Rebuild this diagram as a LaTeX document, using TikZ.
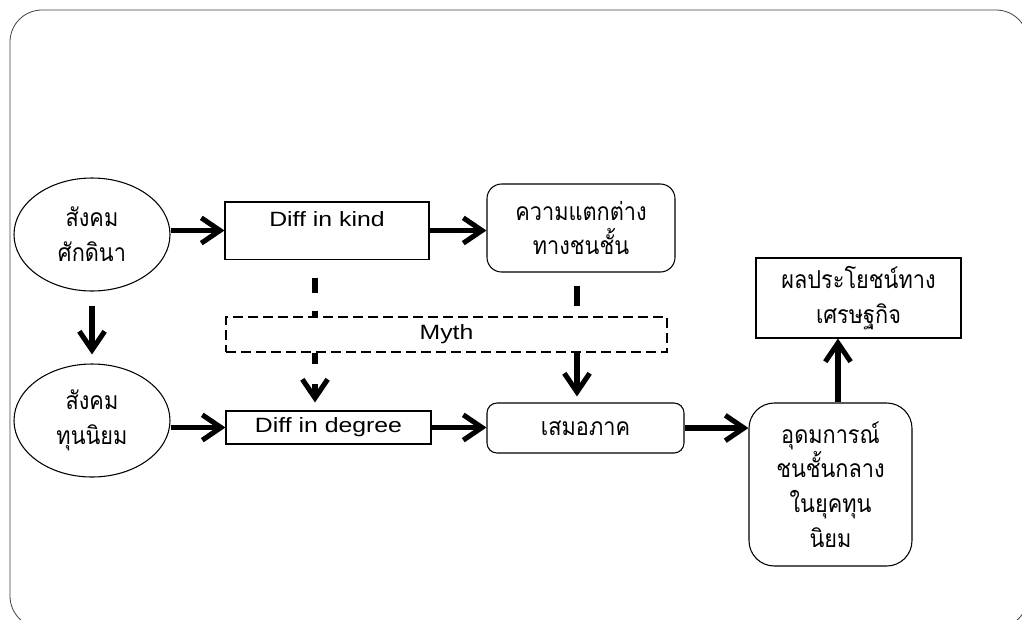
\documentclass[tikz,border=0pt]{standalone}
\usepackage{fontspec}
\setmainfont{Liberation Sans}[FakeStretch=1.2]
\newfontfamily\thai[Script=Thai,FakeStretch=0.88]{Loma}
\usetikzlibrary{shapes.geometric,arrows.meta}
\begin{document}
\begin{tikzpicture}[x=0.75pt,y=-0.75pt,
  box/.style={draw, line width=0.8pt, inner sep=0pt, align=center},
  rbox/.style={box, rounded corners=#1},
  th/.style={font=\thai\fontsize{18.5}{26}\selectfont},
  la/.style={font=\fontsize{15.5}{18}\selectfont},
  arr/.style={line width=3.8pt, -{Straight Barb[length=14pt,width=19pt]}},
  darr/.style={line width=3.8pt},
  mythbox/.style={draw, line width=2.1pt, dash pattern=on 7.5pt off 3.75pt, inner sep=0pt}
  ]
\useasboundingbox (0,0) rectangle (1022,619);
\draw[black!75, line width=0.6pt, rounded corners=24pt] (10,10) rectangle (1028,628);

\node[box, ellipse, minimum width=117pt, minimum height=84.75pt, th] (e1) at (92,234.5) {สังคม\\ศักดินา};
\node[box, ellipse, minimum width=117pt, minimum height=84.75pt, th] (e2) at (92,420.5) {สังคม\\ทุนนิยม};
\node[box, minimum width=153pt, la, text height=18.6pt, text depth=24.2pt] (dk) at (327,230.5) {Diff in kind};
\node[rbox=11pt, minimum width=141pt, minimum height=66pt, th] (kw) at (581,228) {ความแตกต่าง\\ทางชนชั้น};
\node[mythbox, minimum width=330.75pt, minimum height=26.25pt, la] (my) at (446.5,334.5) {Myth};
\node[box, minimum width=153.75pt, minimum height=24.75pt, la] (dd) at (328.5,427.5) {Diff in degree};
\node[rbox=7.5pt, minimum width=147.75pt, minimum height=37.5pt, th] (sm) at (585.5,428) {เสมอภาค};
\node[rbox=19pt, minimum width=122.25pt, minimum height=122.25pt, th] (ud) at (830.5,484.5) {อุดมการณ์\\ชนชั้นกลาง\\ในยุคทุน\\นิยม};
\node[box, minimum width=153.75pt, minimum height=60pt, th] (pb) at (858.5,298) {ผลประโยชน์ทาง\\เศรษฐกิจ};

\draw[arr] (dk.west -| e1.east) -- (dk.west);
\draw[arr] (dk.east) -- (dk.east -| kw.west);
\draw[arr, shorten <=10.5pt, shorten >=6.75pt] (e1.south) -- (e2.north);
\draw[arr] (dd.west -| e2.east) -- (dd.west);
\draw[arr] (dd.east) -- (dd.east -| sm.west);
\draw[arr] (sm.east) -- (sm.east -| ud.west);
\coordinate (udt) at ([xshift=5.6pt]ud.north);
\draw[arr] (udt) -- (udt |- pb.south);

\coordinate (dkb) at ([xshift=-9pt]dk.south);
\coordinate (kwb) at ([xshift=-3pt]kw.south);
\draw[darr, dash pattern=on 11.25pt off 13.5pt, dash phase=11.25pt] (dkb) -- (dkb |- my.north);
\draw[darr, dash pattern=on 15pt off 9.75pt, dash phase=15pt] (kwb) -- (kwb |- my.north);
\draw[arr, dash pattern=on 8.25pt off 15pt, shorten >=6pt] (dkb |- my.south) -- (dkb |- dd.north);
\draw[arr, shorten >=4.5pt] (kwb |- my.south) -- (kwb |- sm.north);
\end{tikzpicture}
\end{document}
